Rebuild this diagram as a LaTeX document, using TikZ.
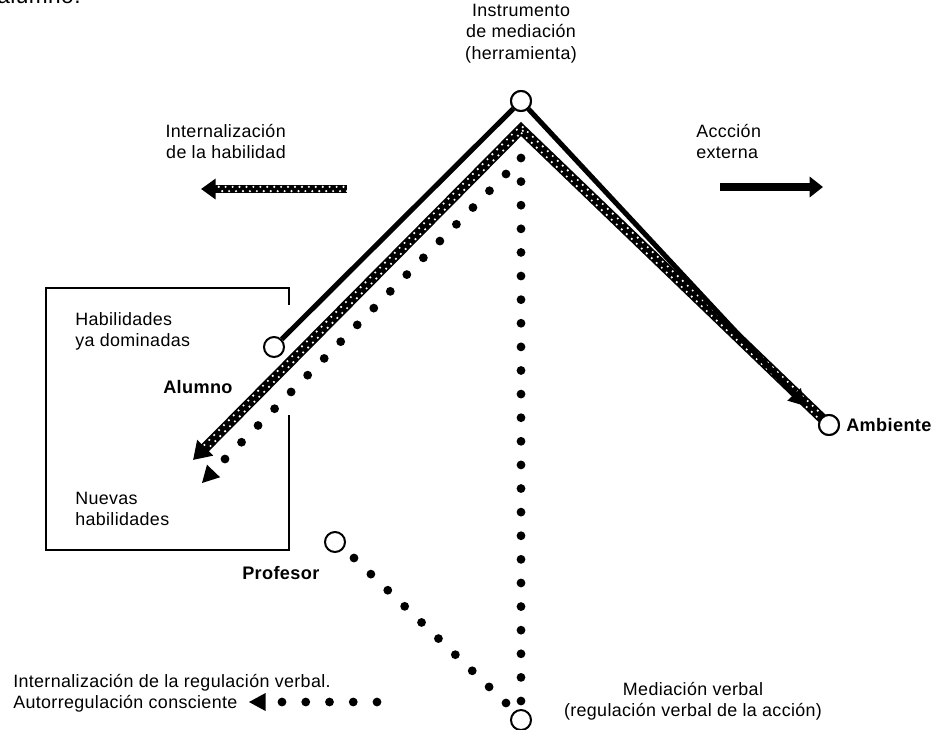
\documentclass[tikz,border=0pt]{standalone}
\usepackage{fontspec}
\setmainfont{Liberation Sans}[LetterSpace=2]
\usetikzlibrary{arrows.meta,calc}

% row of filled dots between two points (#3 = number of gaps)
\newcommand\dotrun[3]{%
  \foreach \k in {0,...,#3} \fill ($(#1)!\k/#3!(#2)$) circle (3.3pt);}
% solid triangular head with its tip at #1, pointing away from #2
\newcommand\dothead[2]{%
  \path ($(#1)!12.5pt!(#2)$) coordinate (hb);
  \fill (#1) -- ($(hb)!6.8pt!90:(#1)$) -- ($(hb)!6.8pt!-90:(#1)$) -- cycle;}
% two staggered rows of white dots inside a dark band
\newcommand\banddots[2]{%
  \draw[dotrow] ($(#1)!1.9pt!90:(#2)$) -- ($(#2)!1.9pt!-90:(#1)$);
  \draw[dotrow, dash phase=2.6pt] ($(#1)!1.9pt!-90:(#2)$) -- ($(#2)!1.9pt!90:(#1)$);}

\tikzset{
  lbl/.style={font=\fontsize{13.4}{16}\selectfont, inner sep=0pt},
  blbl/.style={font=\fontsize{13.6}{16}\selectfont\bfseries, inner sep=0pt},
  ring/.style={circle, draw, line width=1.5pt, fill=white, minimum size=15pt, inner sep=0pt},
  solidline/.style={line width=3.8pt},
  band/.style={line width=7.6pt, line join=miter},
  dotrow/.style={white, line width=1.8pt, line cap=round, dash pattern=on 0pt off 5.2pt},
  boxline/.style={line width=1.5pt},
  head/.style={-{Triangle[length=12pt,width=13pt]}},
}

\begin{document}
\begin{tikzpicture}[x=0.75pt,y=-0.75pt]
\useasboundingbox (0,0) rectangle (934,729);

% fragment of the preceding sentence, cut by the top edge
\node[font=\fontsize{17}{20}\selectfont, inner sep=0pt, anchor=base west] (frag) at (-3,3) {alumno.};

% key points
\coordinate (apex) at (521,129);
\coordinate (ltip) at (193,460);
\coordinate (rtip) at (805,406);
\node[ring] (top) at (521,101) {};
\node[ring] (hab) at (274,347) {};
\node[ring] (amb) at (829,425) {};
\node[ring] (prof) at (335,542) {};
\node[ring] (med) at (521,720) {};

% student box, open where the paths cross it
\draw[boxline] (289,305) -- (289,288) -- (46,288) -- (46,550) -- (289,550) -- (289,415);

% hatched band: internalisation (left) and external action (right)
\draw[band, {Triangle[length=13pt,width=16pt]}-] (ltip) -- (apex) -- (amb.center);
\path ($(ltip)!14pt!(apex)$) coordinate (lbandend);
\banddots{apex}{lbandend}
\path ($(amb.center)!9pt!(apex)$) coordinate (rbandend);
\banddots{apex}{rbandend}

% solid tool lines
\draw[solidline] (top) -- (hab);
\draw[solidline, head] (top) -- (rtip);
\node[ring] at (top) {};
\node[ring] at (amb) {};

% dotted verbal mediation paths
\coordinate (d1s) at (506,174);
\coordinate (d1e) at (225,459);
\dotrun{d1s}{d1e}{17}
\coordinate (d1tip) at (202,483);
\dothead{d1tip}{d1e}

\coordinate (v1s) at (521,158);
\coordinate (v1e) at (521,701);
\dotrun{v1s}{v1e}{23}

\coordinate (p1s) at (354,558);
\coordinate (p1e) at (506,703);
\dotrun{p1s}{p1e}{9}

\coordinate (h1s) at (377,702);
\coordinate (h1e) at (282,702);
\dotrun{h1s}{h1e}{4}
\coordinate (h1tip) at (249,702);
\dothead{h1tip}{h1e}

% small legend arrows
\coordinate (iha) at (347,189);
\coordinate (ihb) at (201,189);
\draw[line width=6.4pt, -{Triangle[length=11pt,width=15pt]}] (iha) -- (ihb);
\path ($(ihb)!12pt!(iha)$) coordinate (ihc);
\draw[dotrow] ($(iha)+(0,-1.6pt)$) -- ($(ihc)+(0,-1.6pt)$);
\draw[dotrow, dash phase=2.6pt] ($(iha)+(0,1.6pt)$) -- ($(ihc)+(0,1.6pt)$);

\coordinate (aea) at (720,187);
\coordinate (aeb) at (823,187);
\draw[line width=6.4pt, -{Triangle[length=10pt,width=15pt]}] (aea) -- (aeb);

% labels
\node[lbl, align=center, anchor=north] (instr) at (521,4) {Instrumento\\de mediación\\(herramienta)};
\node[lbl, align=right, anchor=north east] (ihab) at (286,124) {Internalización\\de la habilidad};
\node[lbl, align=left, anchor=north west] (accion) at (696,124) {Accción\\externa};
\node[lbl, align=left, anchor=north west] (habt) at (75,312) {Habilidades\\ya dominadas};
\node[blbl, anchor=base west] (alumno) at (163,393) {Alumno};
\node[lbl, align=left, anchor=north west] (nuevas) at (75,492) {Nuevas\\habilidades};
\node[blbl, anchor=base west] (profesor) at (242,579) {Profesor};
\node[blbl, anchor=base west] (ambiente) at (846,431) {Ambiente};
\node[lbl, align=center, anchor=north] (medv) at (693,682) {Mediación verbal\\(regulación verbal de la acción)};
\node[lbl, align=left, anchor=north west] (intreg) at (13,674) {Internalización de la regulación verbal.\\Autorregulación consciente};
\end{tikzpicture}
\end{document}
